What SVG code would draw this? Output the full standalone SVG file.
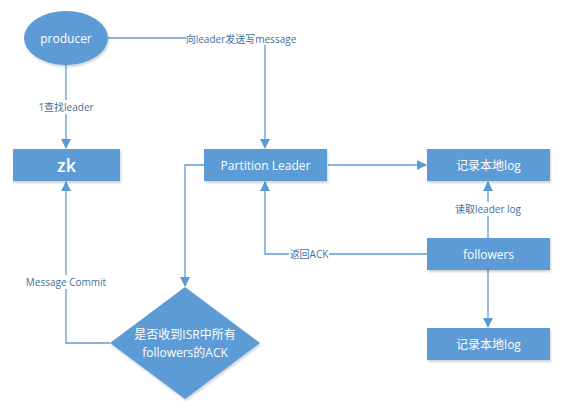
<svg xmlns="http://www.w3.org/2000/svg" width="583" height="411" viewBox="0 0 583 411">
<defs>
<marker id="arr" markerWidth="10" markerHeight="10" refX="9" refY="5" orient="auto" markerUnits="userSpaceOnUse">
<path d="M0,0 L10,5 L0,10 Z" fill="#5b9bd5"/>
</marker>
<filter id="sh" x="-10%" y="-10%" width="130%" height="140%">
<feDropShadow dx="1" dy="2" stdDeviation="1.2" flood-color="#000" flood-opacity="0.18"/>
</filter>
</defs>
<style>
.node{fill:#5b9bd5;filter:url(#sh)}
.nt{font-family:"Open Sans","Noto Sans CJK SC",sans-serif;fill:#fff;font-size:12px;text-anchor:middle;dominant-baseline:central}
.ln{fill:none;stroke:#5b9bd5;stroke-width:1.3}
.lb{font-family:"Open Sans","Noto Sans CJK SC",sans-serif;fill:#41719c;font-size:10px;text-anchor:middle;dominant-baseline:central}
.bg{fill:#fff}
</style>
<rect width="583" height="411" fill="#fff"/>
<g id="connectors">
<path class="ln" d="M108,38 H265 V148" marker-end="url(#arr)"/>
<rect class="bg" x="186" y="31" width="110" height="14"/>
<text class="lb" x="241" y="38.5">向leader发送写message</text>
<path class="ln" d="M66,65 V148" marker-end="url(#arr)"/>
<rect class="bg" x="34" y="100" width="64" height="14"/>
<text class="lb" x="66" y="107">1查找leader</text>
<path class="ln" d="M328,165 H426" marker-end="url(#arr)"/>
<path class="ln" d="M488,238 V182" marker-end="url(#arr)"/>
<rect class="bg" x="452" y="202" width="72" height="14"/>
<text class="lb" x="488" y="209">读取leader log</text>
<path class="ln" d="M488,270 V327" marker-end="url(#arr)"/>
<path class="ln" d="M427,254 H265 V182" marker-end="url(#arr)"/>
<rect class="bg" x="289" y="247" width="40" height="14"/>
<text class="lb" x="309" y="254">返回ACK</text>
<path class="ln" d="M204,165 H185 V286" marker-end="url(#arr)"/>
<path class="ln" d="M110,343 H66 V182" marker-end="url(#arr)"/>
<rect class="bg" x="28" y="275" width="76" height="14"/>
<text class="lb" x="66" y="282">Message Commit</text>
</g>
<g id="producer">
<ellipse class="node" cx="66" cy="38" rx="42" ry="27"/>
<text class="nt" x="66" y="38">producer</text>
</g>
<g id="zk">
<rect class="node" x="13" y="149" width="107" height="32"/>
<text class="nt" x="66.5" y="165" style="font-size:18px;font-weight:600">zk</text>
</g>
<g id="partition-leader">
<rect class="node" x="204" y="149" width="123" height="32"/>
<text class="nt" x="265.5" y="165">Partition Leader</text>
</g>
<g id="log-top">
<rect class="node" x="427" y="149" width="123" height="32"/>
<text class="nt" x="488.5" y="165">记录本地log</text>
</g>
<g id="followers">
<rect class="node" x="427" y="238" width="123" height="32"/>
<text class="nt" x="488.5" y="254">followers</text>
</g>
<g id="log-bottom">
<rect class="node" x="427" y="328" width="123" height="32"/>
<text class="nt" x="488.5" y="344">记录本地log</text>
</g>
<g id="decision">
<polygon class="node" points="185,287 260,343 185,399 110,343"/>
<text class="nt" x="185" y="334">是否收到ISR中所有</text>
<text class="nt" x="185" y="352">followers的ACK</text>
</g>
</svg>
